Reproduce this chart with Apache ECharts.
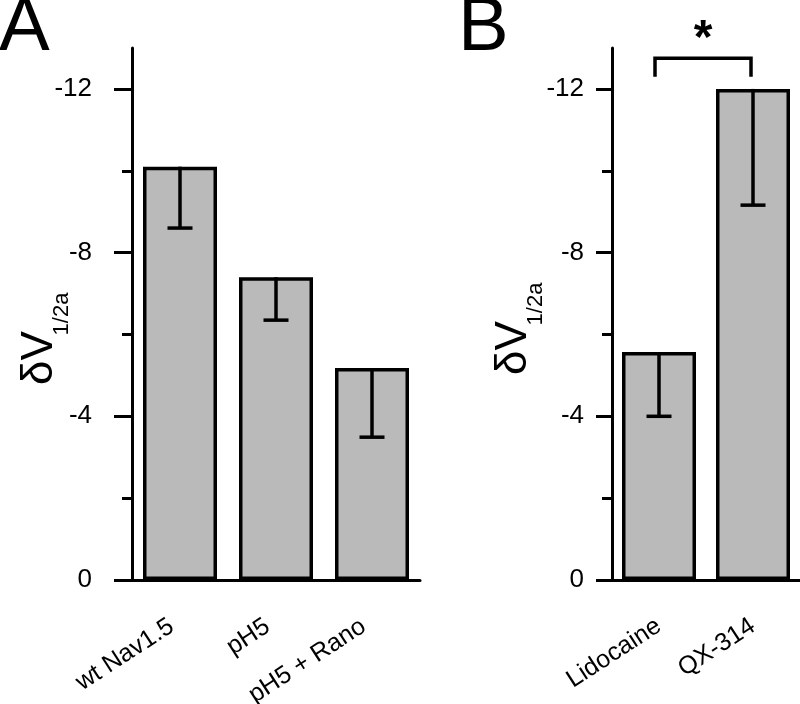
<!DOCTYPE html>
<html>
<head>
<meta charset="utf-8">
<script src="https://cdn.jsdelivr.net/npm/echarts@6/dist/echarts.min.js"></script>
<style>html,body{margin:0;padding:0;background:#fff}#c{width:800px;height:704px}</style>
</head>
<body>
<div id="c"></div>
<script>
// ---- data ----
const catsA = ['wt Nav1.5', 'pH5', 'pH5 + Rano'];
const meanA = [-10.1, -7.4, -5.18];
const errLowA = [-8.6, -6.35, -3.49];
const catsB = ['Lidocaine', 'QX-314'];
const meanB = [-5.57, -12.0];
const errLowB = [-4.0, -9.16];
const yMajorTicks = [0, -4, -8, -12];
const yMinorTicks = [-2, -6, -10];
const sigBracket = [[0, 1, -12.75, -12.3]]; // from cat, to cat, top value, end value
const sigMark = ['*'];
const yMin = -13, yMax = 0;

const FONT = 'Liberation Sans, Arial, sans-serif';
const chart = echarts.init(document.getElementById('c'));

function xAxisCfg(gi, cats, margin, padRight) {
  return {
    type: 'category', gridIndex: gi, data: cats,
    axisLine: { lineStyle: { color: '#000', width: 3 } },
    axisTick: { alignWithLabel: true, length: 10, lineStyle: { color: '#000', width: 3 } },
    axisLabel: { interval: 0, rotate: 33, fontSize: 25, color: '#000', fontFamily: FONT, margin: margin, padding: [0, padRight, 0, 0] },
    splitLine: { show: false }
  };
}
function yAxisMajor(gi, tickLen, margin) {
  return {
    type: 'value', gridIndex: gi, min: yMin, max: yMax, inverse: true,
    axisLine: { show: true, lineStyle: { color: '#000', width: 3 } },
    axisTick: { show: true, customValues: yMajorTicks, length: tickLen, lineStyle: { color: '#000', width: 3 } },
    axisLabel: { customValues: yMajorTicks, fontSize: 26, color: '#000', fontFamily: FONT, margin: margin },
    splitLine: { show: false }
  };
}
function yAxisMinor(gi) {
  return {
    type: 'value', gridIndex: gi, min: yMin, max: yMax, inverse: true, position: 'left',
    axisLine: { show: false },
    axisTick: { show: true, customValues: yMinorTicks, length: 10, lineStyle: { color: '#000', width: 3 } },
    axisLabel: { show: false },
    splitLine: { show: false }
  };
}
function errRender(params, api) {
  const p1 = api.coord([api.value(0), api.value(1)]);
  const p2 = api.coord([api.value(0), api.value(2)]);
  const hw = 12.5;
  const st = { stroke: '#000', lineWidth: 3.5 };
  return {
    type: 'group',
    children: [
      { type: 'line', shape: { x1: p1[0], y1: p1[1], x2: p2[0], y2: p2[1] }, style: st },
      { type: 'line', shape: { x1: p2[0] - hw, y1: p2[1], x2: p2[0] + hw, y2: p2[1] }, style: st }
    ]
  };
}
function barSeries(xi, yi, vals) {
  return {
    type: 'bar', xAxisIndex: xi, yAxisIndex: yi, data: vals, barWidth: 74,
    itemStyle: { color: '#bababa', borderColor: '#000', borderWidth: 3.5 },
    silent: true, z: 2
  };
}
function errSeries(xi, yi, means, lows) {
  return {
    type: 'custom', xAxisIndex: xi, yAxisIndex: yi, clip: false, z: 5,
    data: means.map((m, i) => [i, m, lows[i]]),
    renderItem: errRender, silent: true
  };
}

chart.setOption({
  animation: false,
  backgroundColor: '#fff',
  grid: [
    { left: 132, top: 48, width: 288, height: 532, containLabel: false, outerBoundsMode: 'none' },
    { left: 612, top: 48, width: 188, height: 532, containLabel: false, outerBoundsMode: 'none' }
  ],
  xAxis: [xAxisCfg(0, catsA, 39, 10), xAxisCfg(1, catsB, 44, 0)],
  yAxis: [yAxisMajor(0, 18, 40), yAxisMinor(0), yAxisMajor(1, 16, 28), yAxisMinor(1)],
  series: [
    barSeries(0, 0, meanA),
    errSeries(0, 0, meanA, errLowA),
    barSeries(1, 2, meanB),
    errSeries(1, 2, meanB, errLowB),
    {
      type: 'custom', xAxisIndex: 1, yAxisIndex: 2, clip: false, z: 6, silent: true,
      data: sigBracket,
      renderItem: function (params, api) {
        const a = api.coord([api.value(0), api.value(2)]);
        const b = api.coord([api.value(1), api.value(2)]);
        const a2 = api.coord([api.value(0), api.value(3)]);
        const b2 = api.coord([api.value(1), api.value(3)]);
        const sy = api.coord([api.value(0), -13.2])[1];
        const sx = (a[0] + b[0]) / 2 - 3;
        return {
          type: 'group',
          children: [
            { type: 'polyline', shape: { points: [[a2[0] - 4, a2[1]], [a[0] - 4, a[1]], [b[0] - 2, b[1]], [b2[0] - 2, b2[1]]] },
              style: { stroke: '#000', lineWidth: 3.5, fill: null } },
            { type: 'text', x: sx, y: sy,
              style: { text: sigMark[0], fontSize: 48, fontWeight: 'bold', fontFamily: FONT, fill: '#000', align: 'center', verticalAlign: 'middle' } }
          ]
        };
      }
    }
  ],
  graphic: [
    { type: 'text', x: -1, y: 29, style: { text: 'A', fontSize: 76, fontFamily: FONT, fill: '#000', align: 'left', verticalAlign: 'middle' } },
    { type: 'text', x: 458, y: 29, style: { text: 'B', fontSize: 76, fontFamily: FONT, fill: '#000', align: 'left', verticalAlign: 'middle' } },
    { type: 'text', x: 40, y: 358, rotation: Math.PI / 2, style: { text: 'δV', fontSize: 44, fontFamily: FONT, fill: '#000', align: 'center', verticalAlign: 'middle' } },
    { type: 'text', x: 62, y: 314, rotation: Math.PI / 2, style: { text: '1/2a', fontSize: 22, fontFamily: FONT, fill: '#000', align: 'center', verticalAlign: 'middle' } },
    { type: 'text', x: 514, y: 348, rotation: Math.PI / 2, style: { text: 'δV', fontSize: 44, fontFamily: FONT, fill: '#000', align: 'center', verticalAlign: 'middle' } },
    { type: 'text', x: 536, y: 304, rotation: Math.PI / 2, style: { text: '1/2a', fontSize: 22, fontFamily: FONT, fill: '#000', align: 'center', verticalAlign: 'middle' } }
  ]
});
</script>
</body>
</html>
